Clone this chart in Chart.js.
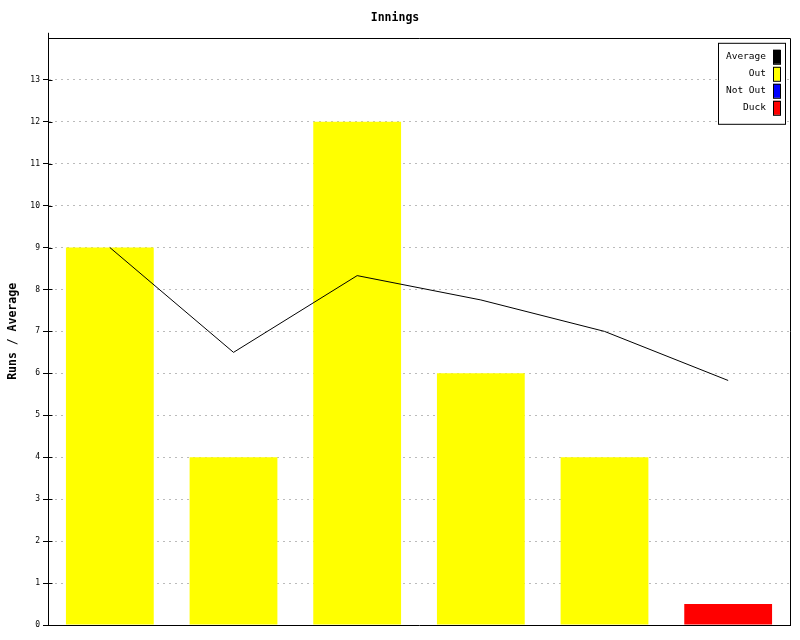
<!DOCTYPE html>
<html lang="en">
<head>
    <meta charset="UTF-8">
    <title>Innings</title>
    <script src="https://cdn.jsdelivr.net/npm/chart.js"></script>
    <style>
        body { margin: 0; background: #fff; }
        canvas { display: block; }
    </style>
</head>
<body>
    <canvas id="innings" width="800" height="640"></canvas>
    <script>
        const innings = ['1', '2', '3', '4', '5', '6'];
        const outRuns = [9, 4, 12, 6, 4, null];
        const notOutRuns = [null, null, null, null, null, null];
        const duckRuns = [null, null, null, null, null, 0.5];
        const average = [9, 6.5, 8.33, 7.75, 7, 5.83];

        const mono = "'DejaVu Sans Mono', monospace";

        // legend box in the top right corner, text right aligned, swatch on the right
        const boxLegend = {
            id: 'boxLegend',
            afterDraw(chart) {
                const ctx = chart.ctx;
                const area = chart.chartArea;
                const x1 = area.right - 72, x2 = area.right - 5;
                const y1 = area.top + 5, y2 = area.top + 86;
                ctx.save();
                ctx.fillStyle = '#fff';
                ctx.fillRect(x1, y1, x2 - x1, y2 - y1);
                ctx.strokeStyle = '#000';
                ctx.lineWidth = 1;
                ctx.strokeRect(x1 + 0.5, y1 + 0.5, x2 - x1, y2 - y1);
                ctx.font = '9.5px ' + mono;
                ctx.textAlign = 'right';
                ctx.textBaseline = 'middle';
                chart.data.datasets.forEach((ds, i) => {
                    const cy = y1 + 14 + i * 17;
                    ctx.fillStyle = '#000';
                    ctx.fillText(ds.label, x2 - 19, cy);
                    ctx.fillStyle = ds.swatch;
                    ctx.fillRect(x2 - 12, cy - 7, 7, 14);
                    ctx.strokeStyle = '#000';
                    ctx.strokeRect(x2 - 12 + 0.5, cy - 7 + 0.5, 7, 14);
                });
                ctx.restore();
            }
        };

        // frame around the plot area, plus tick marks crossing the y axis
        const frame = {
            id: 'frame',
            afterDraw(chart) {
                const a = chart.chartArea;
                const ctx = chart.ctx;
                const left = Math.round(a.left) + 0.5;
                ctx.save();
                ctx.strokeStyle = '#000';
                ctx.lineWidth = 1;
                ctx.beginPath();
                ctx.moveTo(left, a.top - 5);
                ctx.lineTo(left, a.bottom);
                ctx.moveTo(a.left, Math.round(a.top) + 0.5);
                ctx.lineTo(Math.round(a.right) + 0.5, Math.round(a.top) + 0.5);
                ctx.lineTo(Math.round(a.right) + 0.5, a.bottom);
                const y = chart.scales.y;
                y.ticks.forEach(t => {
                    if (t.value > 0 && t.value < 14) {
                        const py = Math.round(y.getPixelForValue(t.value)) + 0.5;
                        ctx.moveTo(left, py);
                        ctx.lineTo(left + 4, py);
                    }
                });
                ctx.stroke();
                ctx.restore();
            }
        };

        const ctx = document.getElementById('innings').getContext('2d');
        new Chart(ctx, {
            data: {
                labels: innings,
                datasets: [
                    {
                        type: 'line',
                        label: 'Average',
                        data: average,
                        borderColor: '#000',
                        borderWidth: 1,
                        pointRadius: 0,
                        tension: 0,
                        swatch: '#000',
                        order: 0
                    },
                    {
                        type: 'bar',
                        label: 'Out',
                        data: outRuns,
                        backgroundColor: '#ffff00',
                        swatch: '#ffff00',
                        grouped: false,
                        order: 1
                    },
                    {
                        type: 'bar',
                        label: 'Not Out',
                        data: notOutRuns,
                        backgroundColor: '#0000ff',
                        swatch: '#0000ff',
                        grouped: false,
                        order: 1
                    },
                    {
                        type: 'bar',
                        label: 'Duck',
                        data: duckRuns,
                        backgroundColor: '#ff0000',
                        swatch: '#ff0000',
                        grouped: false,
                        order: 1
                    }
                ]
            },
            options: {
                responsive: false,
                animation: false,
                devicePixelRatio: 1,
                datasets: {
                    bar: { categoryPercentage: 1, barPercentage: 0.71 }
                },
                layout: { padding: { top: 0, right: 10, bottom: 0, left: 0 } },
                plugins: {
                    legend: { display: false },
                    tooltip: { enabled: false },
                    title: {
                        display: true,
                        text: 'Innings',
                        color: '#000',
                        font: { family: mono, size: 11.5, weight: 'bold' },
                        padding: { top: 11, bottom: 13 }
                    }
                },
                scales: {
                    x: {
                        grid: { display: false },
                        border: { display: true, color: '#000', width: 1 },
                        ticks: { display: false },
                        afterFit(scale) { scale.height = 15; }
                    },
                    y: {
                        min: 0,
                        max: 14,
                        z: 1,
                        ticks: {
                            stepSize: 1,
                            autoSkip: false,
                            color: '#000',
                            padding: 3,
                            font: { family: mono, size: 8 },
                            callback: v => (v === 14 ? '' : v)
                        },
                        grid: {
                            color: c => (c.tick && c.tick.value > 0 && c.tick.value < 14 ? '#bbbbbb' : 'rgba(0,0,0,0)'),
                            tickColor: c => (c.tick && c.tick.value < 14 ? '#000' : 'rgba(0,0,0,0)'),
                            tickLength: 5,
                            lineWidth: 1
                        },
                        border: { display: true, color: '#000', width: 1, dash: [2, 4], dashOffset: 0 },
                        title: {
                            display: true,
                            text: 'Runs / Average',
                            color: '#000',
                            font: { family: mono, size: 11.5, weight: 'bold' },
                            padding: { top: 6, bottom: 0 }
                        },
                        afterFit(scale) { scale.width = 48; }
                    }
                }
            },
            plugins: [frame, boxLegend]
        });
    </script>
</body>
</html>
